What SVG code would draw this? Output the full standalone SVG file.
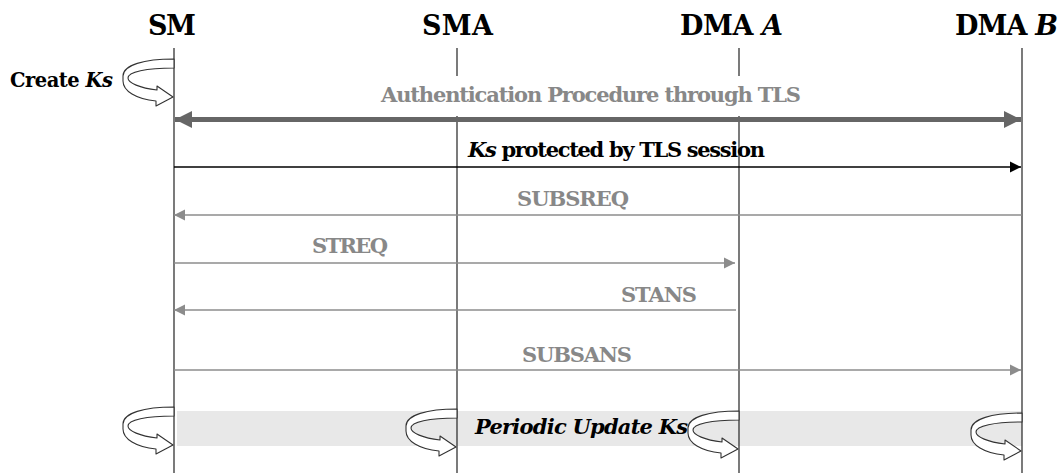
<svg xmlns="http://www.w3.org/2000/svg" width="1063" height="473" viewBox="0 0 1063 473">
<style>
text{font-family:"DejaVu Serif","Liberation Serif",serif;font-weight:bold}
.hdr{font-size:27px;fill:#000}
.lbl{font-size:21px;fill:#888}
.blk{font-size:21px;fill:#000}
.ck{font-size:19.5px;fill:#000}
.it{font-style:italic}
.life{stroke:#333;stroke-width:1.3;fill:none}
.thin{stroke:#8c8c8c;stroke-width:1.5;fill:none}
.loop{fill:#fff;stroke:#333;stroke-width:1.1;stroke-linejoin:round}
</style>
<defs>
<marker id="hGray" markerUnits="userSpaceOnUse" markerWidth="12" markerHeight="12" refX="11" refY="6" orient="auto-start-reverse">
<path d="M0,0.5 L11,6 L0,11.5 Z" fill="#8c8c8c"/>
</marker>
<marker id="hBlack" markerUnits="userSpaceOnUse" markerWidth="12" markerHeight="12" refX="11" refY="6" orient="auto">
<path d="M0,0.5 L11,6 L0,11.5 Z" fill="#000"/>
</marker>
<marker id="hThick" markerUnits="userSpaceOnUse" markerWidth="18" markerHeight="18" refX="17" refY="9" orient="auto-start-reverse">
<path d="M0,0.5 L17,9 L0,17.5 Z" fill="#666"/>
</marker>
<path id="loopIcon" class="loop" d="M0,0 C-30,0 -51,6 -51,17 L-51,22 C-51,32 -38,40 -18,42 L-18,47 L-1,38 L-17,27 L-17,31 C-34,29 -46,24 -46,19 C-46,13 -28,9 0,9 Z"/>
</defs>
<rect width="1063" height="473" fill="#fff"/>
<rect x="177" y="411" width="845" height="35" fill="#e8e8e8"/>
<g id="SM">
<text class="hdr" x="148" y="35" textLength="48">SM</text>
<line class="life" x1="174" y1="48" x2="174" y2="473"/>
</g>
<g id="SMA">
<text class="hdr" x="422" y="35" textLength="71">SMA</text>
<line class="life" x1="457" y1="48" x2="457" y2="473"/>
</g>
<g id="DMA_A">
<text class="hdr" x="680" y="35" textLength="103">DMA <tspan class="it">A</tspan></text>
<line class="life" x1="739" y1="48" x2="739" y2="473"/>
</g>
<g id="DMA_B">
<text class="hdr" x="955" y="35" textLength="103">DMA <tspan class="it">B</tspan></text>
<line class="life" x1="1022" y1="48" x2="1022" y2="473"/>
</g>
<rect x="375" y="76" width="435" height="40" fill="#fff"/>
<g id="create_ks">
<use href="#loopIcon" transform="translate(174,59)"/>
<text class="ck" x="10" y="87" textLength="103">Create <tspan class="it">Ks</tspan></text>
</g>
<g id="connectors">
<line x1="175" y1="119.5" x2="1021" y2="119.5" stroke="#666" stroke-width="5" marker-start="url(#hThick)" marker-end="url(#hThick)"/>
<line x1="174" y1="167" x2="1021" y2="167" stroke="#000" stroke-width="1.4" marker-end="url(#hBlack)"/>
<line class="thin" x1="1022" y1="215" x2="174" y2="215" marker-end="url(#hGray)"/>
<line class="thin" x1="174" y1="263" x2="735" y2="263" marker-end="url(#hGray)"/>
<line class="thin" x1="736" y1="310" x2="174" y2="310" marker-end="url(#hGray)"/>
<line class="thin" x1="174" y1="370" x2="1021" y2="370" marker-end="url(#hGray)"/>
</g>
<g id="labels">
<text class="lbl" x="381" y="102" textLength="420">Authentication Procedure through TLS</text>
<text class="blk" x="468" y="157" textLength="297"><tspan class="it">Ks</tspan> protected by TLS session</text>
<text class="lbl" x="517" y="206" textLength="112">SUBSREQ</text>
<text class="lbl" x="312" y="253" textLength="76">STREQ</text>
<text class="lbl" x="621" y="302" textLength="76">STANS</text>
<text class="lbl" x="522" y="362" textLength="110">SUBSANS</text>
</g>
<g id="periodic_update">
<use href="#loopIcon" transform="translate(174,407)"/>
<use href="#loopIcon" transform="translate(457,409)"/>
<use href="#loopIcon" transform="translate(739,411)"/>
<use href="#loopIcon" transform="translate(1022,413)"/>
<text class="blk it" x="475" y="434" textLength="213">Periodic Update Ks</text>
</g>
</svg>
